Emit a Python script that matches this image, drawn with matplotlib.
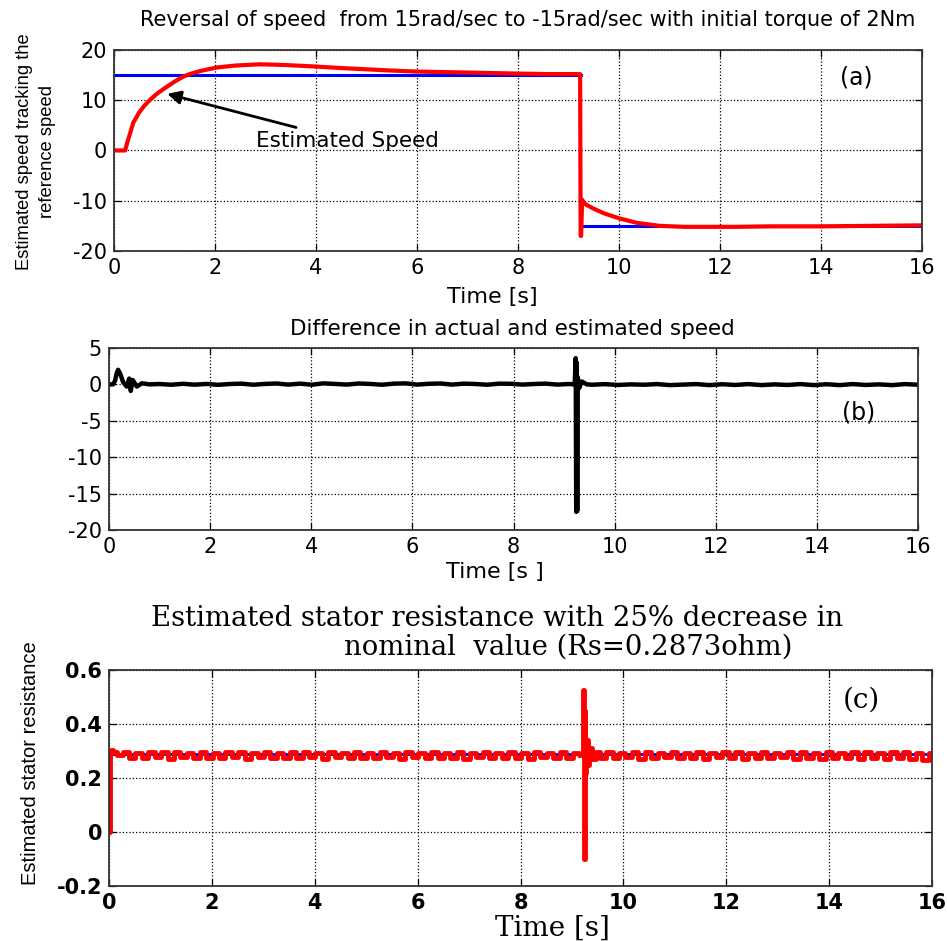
import numpy as np
import matplotlib
matplotlib.use("Agg")
import matplotlib.pyplot as plt

# ---- panel (a): speed reversal ----
ref_t = [0, 9.25]
ref_w = [15, 15]
ref_t2 = [9.3, 16]
ref_w2 = [-15, -15]

est_t = [0, 0.22, 0.26, 0.3, 0.38, 0.5, 0.6, 0.71, 0.85, 1.05, 1.2, 1.37, 1.5, 1.7, 2.03, 2.4, 2.89, 3.4, 4.0, 4.5, 5.0, 5.5,
         6.0, 6.5, 7.05, 7.5, 8.0, 8.6, 9.2, 9.23, 9.24, 9.25, 9.27, 9.3, 9.36, 9.5, 9.7, 10.0, 10.35, 10.8, 11.3,
         12.3, 13.0, 14.0, 15.0, 16.0]
est_w = [0, 0, 1.5, 2.8, 5.5, 7.6, 8.9, 10.05, 11.3, 12.7, 13.7, 14.7, 15.2, 15.8, 16.5, 16.9, 17.15, 17.0, 16.7, 16.4, 16.15, 15.9,
         15.7, 15.6, 15.5, 15.4, 15.3, 15.2, 15.2, 15.2, -17.0, -17.0, -9.8, -10.4, -10.85, -11.6, -12.5, -13.5, -14.4, -15.0, -15.2,
         -15.2, -15.1, -15.1, -15.0, -14.9]

# ---- panel (b): speed difference ----
diff_t0 = [0, 0.08, 0.12, 0.15, 0.18, 0.22, 0.28, 0.35, 0.4, 0.43, 0.47, 0.55, 0.65, 0.8]
diff_v0 = [0, 0, 0.5, 1.5, 2.0, 1.5, 0.3, -0.3, 0.8, -0.9, 0.6, -0.3, 0.15, 0]
diff_noise1 = [0.05, -0.05, 0.08, -0.04, 0.06, -0.06, 0.05, 0.1, -0.05, 0.06, 0.12, -0.03, 0.1, -0.05, 0.14, 0.06, -0.03, 0.12,
               0.06, -0.05, 0.1, 0.14, -0.03, 0.08, 0.12, -0.03, 0.1, 0.05, -0.05, 0.1, 0.08, -0.03, 0.05, 0.1, -0.03, 0.05]
diff_t_spike = [9.21, 9.23, 9.24, 9.25, 9.26, 9.27, 9.3, 9.35, 9.45]
diff_v_spike = [0, 3.6, -17.5, 3.0, -17.4, 1.0, -0.5, 0.4, 0]
diff_noise2 = [-0.05, 0.03, -0.08, 0.0, -0.05, 0.04, -0.1, -0.03, 0.04, -0.1, 0.02, -0.08, 0.04, -0.1, 0.0, -0.08, 0.04, -0.1,
               0.02, -0.1, 0.04, -0.08, 0.0, -0.1, 0.04, -0.05]

# ---- panel (c): stator resistance ----
rs_nominal = 0.2873
rs_t0 = [0, 0.02, 0.05, 0.1]
rs_v0 = [0.0, 0.29, 0.305, 0.295]
rs_ripple1 = [0.285, 0.296, 0.275, 0.294, 0.273, 0.297, 0.276, 0.295, 0.272, 0.296, 0.277, 0.294, 0.274, 0.297, 0.275,
              0.293, 0.273, 0.296, 0.278, 0.295, 0.272, 0.294, 0.276, 0.297, 0.274, 0.293, 0.275, 0.296, 0.273, 0.295,
              0.277, 0.294, 0.272, 0.296, 0.276, 0.293, 0.274, 0.297, 0.275, 0.294, 0.273, 0.295, 0.277, 0.293, 0.272,
              0.296, 0.276, 0.294, 0.274, 0.297, 0.273, 0.293, 0.275, 0.295, 0.272, 0.294, 0.277, 0.296, 0.273, 0.293,
              0.275, 0.297, 0.274, 0.294, 0.272, 0.295, 0.276, 0.293, 0.273, 0.296, 0.275, 0.294, 0.285]
rs_t_spike = [9.21, 9.23, 9.24, 9.25, 9.27, 9.29, 9.32, 9.36, 9.42, 9.5]
rs_v_spike = [0.285, 0.526, -0.1, 0.45, 0.22, 0.34, 0.25, 0.31, 0.27, 0.295]
rs_ripple2 = [0.275, 0.297, 0.273, 0.294, 0.276, 0.296, 0.272, 0.295, 0.274, 0.293, 0.277, 0.296, 0.273, 0.294, 0.275,
              0.297, 0.272, 0.293, 0.276, 0.295, 0.274, 0.296, 0.271, 0.294, 0.275, 0.297, 0.273, 0.293, 0.276, 0.295,
              0.272, 0.296, 0.274, 0.294, 0.270, 0.297, 0.273, 0.293, 0.275, 0.295, 0.271, 0.296, 0.274, 0.294, 0.270,
              0.295, 0.273, 0.296, 0.271, 0.294, 0.268, 0.293]

xticks = [0, 2, 4, 6, 8, 10, 12, 14, 16]

sans = ["DejaVu Sans"]
tall = ["Liberation Sans", "DejaVu Sans"]
serif = ["DejaVu Serif"]
plt.rcParams["font.family"] = sans
plt.rcParams["axes.unicode_minus"] = False


def style_axes(ax, yticks, ylim, tick_size=15, tick_weight="normal"):
    ax.set_xlim(0, 16)
    ax.set_ylim(*ylim)
    ax.set_xticks(xticks)
    ax.set_yticks(yticks)
    ax.grid(True, color="black", linestyle=":", linewidth=0.9)
    ax.tick_params(direction="in", length=5, top=True, right=True, labelsize=tick_size, pad=5, width=0.9)
    for lab in ax.get_xticklabels() + ax.get_yticklabels():
        lab.set_fontweight(tick_weight)
    for s in ax.spines.values():
        s.set_color("#333333")
        s.set_linewidth(1.3)


fig = plt.figure(figsize=(9.47, 9.41), dpi=100)

# (a)
ax1 = fig.add_axes([0.1204, 0.7333, 0.8532, 0.2136])
ax1.plot(ref_t, ref_w, color="#0000ff", lw=2.2)
ax1.plot(ref_t2, ref_w2, color="#0000ff", lw=2.2)
ax1.plot(est_t, est_w, color="#ff0000", lw=3.0)
style_axes(ax1, [-20, -10, 0, 10, 20], (-20, 20))
ax1.annotate("Estimated Speed", xy=(1.0, 11.4), xytext=(2.82, 1.9), fontsize=15.5, va="center",
             arrowprops=dict(arrowstyle="-|>", color="black", lw=2, mutation_scale=20, shrinkA=2))
ax1.text(14.69, 14.6, "(a)", fontsize=17, ha="center", va="center")
fig.text(0.5575, 0.979, "Reversal of speed  from 15rad/sec to -15rad/sec with initial torque of 2Nm",
         ha="center", va="center", fontsize=15)
fig.text(0.5195, 0.684, "Time [s]", ha="center", va="center", fontsize=16)
fig.text(0.038, 0.839, "Estimated speed tracking the\nreference speed", rotation=90, ha="center", va="center",
         fontsize=13.2, family=tall, linespacing=1.45)

# (b)
ax2 = fig.add_axes([0.1151, 0.4368, 0.8543, 0.1934])
t_n1 = np.linspace(1.0, 9.1, len(diff_noise1))
t_n2 = np.linspace(9.55, 16, len(diff_noise2))
diff_t = list(diff_t0) + list(t_n1) + diff_t_spike + list(t_n2)
diff_v = list(diff_v0) + diff_noise1 + diff_v_spike + diff_noise2
ax2.plot(diff_t, diff_v, color="black", lw=3.2)
style_axes(ax2, [-20, -15, -10, -5, 0, 5], (-20, 5))
ax2.text(14.83, -3.9, "(b)", fontsize=17, ha="center", va="center")
fig.text(0.5407, 0.650, "Difference in actual and estimated speed", ha="center", va="center", fontsize=15.5)
fig.text(0.5227, 0.392, "Time [s ]", ha="center", va="center", fontsize=16)

# (c)
ax3 = fig.add_axes([0.1151, 0.0584, 0.8691, 0.2296])
t_r1 = np.linspace(0.2, 9.2, len(rs_ripple1))
t_r2 = np.linspace(9.6, 16, len(rs_ripple2))
rs_t = list(rs_t0) + list(t_r1) + rs_t_spike + list(t_r2)
rs_v = list(rs_v0) + rs_ripple1 + rs_v_spike + rs_ripple2
ax3.plot([0, 16], [rs_nominal, rs_nominal], color="#0000ff", lw=2)
ax3.plot(rs_t, rs_v, color="#ff0000", lw=3.5, drawstyle="steps-mid")
style_axes(ax3, [-0.2, 0, 0.2, 0.4, 0.6], (-0.2, 0.6), tick_size=15, tick_weight="bold")
ax3.set_yticklabels(["-0.2", "0", "0.2", "0.4", "0.6"])
ax3.text(14.62, 0.489, "(c)", fontsize=20, ha="center", va="center", family=serif)
fig.text(0.5245, 0.343, "Estimated stator resistance with 25% decrease in", ha="center", va="center",
         fontsize=19.8, family=serif)
fig.text(0.60, 0.312, "nominal  value (Rs=0.2873ohm)", ha="center", va="center", fontsize=19.8, family=serif)
fig.text(0.583, 0.014, "Time [s]", ha="center", va="center", fontsize=20, family=serif)
fig.text(0.032, 0.189, "Estimated stator resistance", rotation=90, ha="center", va="center",
         fontsize=14.5, family=tall)

fig.savefig("out.png", dpi=100)
